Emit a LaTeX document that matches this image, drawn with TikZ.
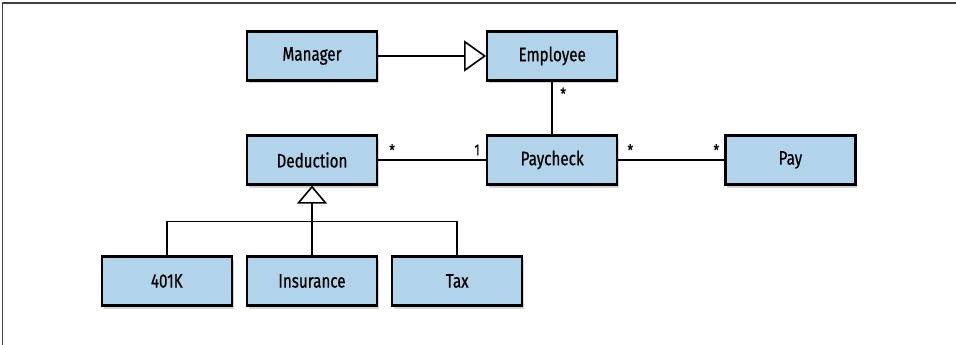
\documentclass[tikz,border=0pt]{standalone}
\usepackage{fontspec}
\setmainfont[FakeStretch=0.78, FakeBold=0.6]{Fira Sans}
\usetikzlibrary{positioning,arrows.meta,shadows}

\definecolor{boxblue}{RGB}{178,212,234}

\tikzset{
    cls/.style={draw, line width=2.2pt, fill=boxblue, minimum width=130pt,
        minimum height=49pt, font=\fontsize{19.5}{22}\selectfont,
        drop shadow={shadow xshift=2pt, shadow yshift=-3pt, opacity=0.35}},
    link/.style={line width=1.6pt},
    mult/.style={font=\fontsize{16}{18}\selectfont, inner sep=1pt},
    inherit/.style={link, -{Triangle[open, length=18pt, width=30pt, line width=1.6pt]}}
}

\begin{document}
\begin{tikzpicture}[node distance=108pt]
    \useasboundingbox (0pt,0pt) rectangle (956pt,-345pt);
    \draw[line width=1.3pt, black!75] (956pt,-3pt) -- (2.5pt,-3pt) -- (2.5pt,-345pt);

    \node[cls] (manager) at (312pt,-56pt) {Manager};
    \node[cls] [right=of manager] (employee) {Employee};
    \node[cls] (deduction) at (312pt,-160pt) {Deduction};
    \node[cls] [right=of deduction] (paycheck) {Paycheck};
    \node[cls] [right=106pt of paycheck] (pay) {Pay};
    \node[cls] (insurance) at (312pt,-281pt) {Insurance};
    \node[cls] [left=13pt of insurance] (k401) {401K};
    \node[cls] [right=13pt of insurance] (tax) {Tax};

    \coordinate (bar) at ([yshift=34pt]insurance.north);

    \draw[link, -{Triangle[open, length=22pt, width=31pt, line width=1.6pt]}] (manager) -- (employee);
    \draw[link] (employee) -- (paycheck);
    \draw[link] (deduction) -- (paycheck);
    \draw[link] (paycheck) -- (pay);
    \draw[link] (k401.north) |- (bar) -| (tax.north);
    \draw[inherit] (insurance.north) -- (deduction.south);

    \node[mult] (m1) at ([xshift=11pt, yshift=-12pt]employee.south) {*};
    \node[mult] (m2) at ([xshift=14pt, yshift=10pt]deduction.east) {*};
    \node[mult] (m3) at ([xshift=-9pt, yshift=10pt]paycheck.west) {1};
    \node[mult] (m4) at ([xshift=12pt, yshift=10pt]paycheck.east) {*};
    \node[mult] (m5) at ([xshift=-8pt, yshift=10pt]pay.west) {*};
\end{tikzpicture}
\end{document}
